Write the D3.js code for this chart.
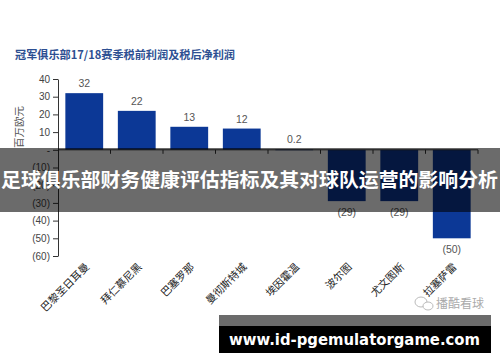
<!DOCTYPE html>
<html>
<head>
<meta charset="utf-8">
<script src="https://cdn.jsdelivr.net/npm/d3@7"></script>
<style>
  body { margin: 0; background: #fff; }
  svg { display: block; font-family: "Liberation Sans", Arial, "Noto Sans CJK SC", sans-serif; }
</style>
</head>
<body>
<svg id="chart" width="500" height="362"></svg>
<script>
// club names and 17/18 profit (million EUR)
var clubs = ['巴黎圣日耳曼', '拜仁慕尼黑', '巴塞罗那', '曼彻斯特城', '埃因霍温', '波尔图', '尤文图斯', '拉塞萨雷'];
var profit = [32, 22, 13, 12, 0.2, -29, -29, -50];
var yTicks = [40, 30, 20, 10, 0, -10, -20, -30, -40, -50, -60];

var title = '冠军俱乐部17/18赛季税前利润及税后净利润';
var banner = '足球俱乐部财务健康评估指标及其对球队运营的影响分析';
var site = 'www.id-pgemulatorgame.com';

var svg = d3.select('#chart');
var cjk = '"Noto Sans CJK SC", sans-serif';

var x = d3.scaleBand()
	.domain(clubs)
	.range([58, 478])
	.paddingInner(0.28)
	.paddingOuter(0.14);

var y = d3.scaleLinear()
	.domain([-60, 40])
	.range([256, 79]);

function fmt(v) {
	if (v === 0) return '-';
	return v < 0 ? '(' + Math.abs(v) + ')' : String(v);
}

// title
svg.append('text')
	.attr('x', 15)
	.attr('y', 59)
	.attr('fill', '#2d4f92')
	.attr('font-family', cjk)
	.attr('font-weight', 'bold')
	.attr('font-size', 11)
	.attr('textLength', 220)
	.attr('lengthAdjust', 'spacingAndGlyphs')
	.text(title);

// y axis label
svg.append('text')
	.attr('transform', 'translate(19,127) rotate(-90)')
	.attr('text-anchor', 'middle')
	.attr('dy', '0.35em')
	.attr('fill', '#555')
	.attr('font-family', cjk)
	.attr('font-size', 10.5)
	.text('百万欧元');

// bars
svg.selectAll('.bar')
	.data(profit)
	.enter().append('rect')
	.attr('class', 'bar')
	.attr('x', function(d, i) { return x(clubs[i]); })
	.attr('y', function(d) { return y(Math.max(0, d)); })
	.attr('width', x.bandwidth())
	.attr('height', function(d) { return Math.max(0.8, Math.abs(y(d) - y(0))); })
	.attr('fill', '#0c3896');

// value labels
svg.selectAll('.val')
	.data(profit)
	.enter().append('text')
	.attr('class', 'val')
	.attr('x', function(d, i) { return x(clubs[i]) + x.bandwidth() / 2; })
	.attr('y', function(d) { return d >= 0 ? y(d) - 6 : y(d) + 15; })
	.attr('text-anchor', 'middle')
	.attr('fill', '#555')
	.attr('font-size', 10.5)
	.text(fmt);

// y axis
var yAxis = svg.append('g')
	.attr('transform', 'translate(58,0)')
	.call(d3.axisLeft(y).tickValues(yTicks).tickFormat(fmt).tickSize(5).tickSizeOuter(0));
yAxis.select('.domain').attr('stroke', '#333');
yAxis.selectAll('line').attr('stroke', '#333');
yAxis.selectAll('text')
	.attr('fill', '#444')
	.attr('font-size', 10)
	.attr('x', -8);

// x axis along zero line
var step = x.step();
var xTicks = d3.range(1, clubs.length + 1).map(function(i) { return 58 + x.paddingOuter() * step + i * step - x.paddingInner() * step / 2; });
svg.append('line')
	.attr('x1', 58).attr('x2', 478)
	.attr('y1', y(0)).attr('y2', y(0))
	.attr('stroke', '#333');
svg.selectAll('.xtick')
	.data(xTicks)
	.enter().append('line')
	.attr('x1', function(d) { return d; })
	.attr('x2', function(d) { return d; })
	.attr('y1', y(0))
	.attr('y2', y(0) + 4)
	.attr('stroke', '#333');

// category labels
svg.selectAll('.cat')
	.data(clubs)
	.enter().append('text')
	.attr('class', 'cat')
	.attr('transform', function(d) { return 'translate(' + (x(d) + x.bandwidth() / 2 + 3) + ',265) rotate(-45)'; })
	.attr('text-anchor', 'end')
	.attr('dy', '0.35em')
	.attr('fill', '#222')
	.attr('font-family', cjk)
	.attr('font-size', 10.5)
	.text(function(d) { return d; });

// watermark
var wm = svg.append('g');
wm.append('ellipse').attr('cx', 421).attr('cy', 302).attr('rx', 6).attr('ry', 5)
	.attr('fill', 'none').attr('stroke', '#bbb').attr('stroke-width', 1);
wm.append('ellipse').attr('cx', 428).attr('cy', 306).attr('rx', 5).attr('ry', 4)
	.attr('fill', '#fff').attr('stroke', '#bbb').attr('stroke-width', 1);
wm.append('text')
	.attr('x', 436).attr('y', 308)
	.attr('fill', '#aaa')
	.attr('font-family', cjk)
	.attr('font-size', 12)
	.text('播酷看球');

// middle banner
svg.append('rect')
	.attr('x', 0).attr('y', 148)
	.attr('width', 500).attr('height', 64)
	.attr('fill', '#000').attr('fill-opacity', 0.58);
svg.append('text')
	.attr('x', 1)
	.attr('y', 180)
	.attr('dy', '0.36em')
	.attr('fill', '#fff')
	.attr('font-family', cjk)
	.attr('font-weight', 'bold')
	.attr('font-size', 19.5)
	.attr('textLength', 497)
	.attr('lengthAdjust', 'spacingAndGlyphs')
	.text(banner);

// bottom site box
svg.append('rect')
	.attr('x', 219).attr('y', 315)
	.attr('width', 272).attr('height', 11)
	.attr('fill', '#6b6b6b');
svg.append('rect')
	.attr('x', 219).attr('y', 326)
	.attr('width', 272).attr('height', 27)
	.attr('fill', '#000');
svg.append('text')
	.attr('x', 229)
	.attr('y', 339)
	.attr('dy', '0.36em')
	.attr('fill', '#fff')
	.attr('font-family', '"DejaVu Sans", sans-serif')
	.attr('font-weight', 'bold')
	.attr('font-size', 16)
	.attr('textLength', 251)
	.attr('lengthAdjust', 'spacingAndGlyphs')
	.text(site);
</script>
</body>
</html>
